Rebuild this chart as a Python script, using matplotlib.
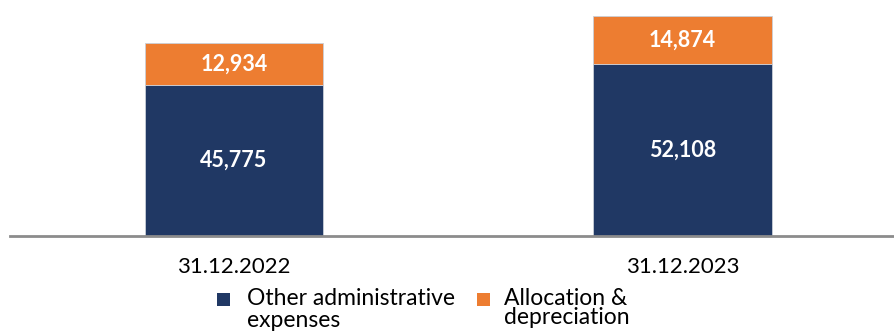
import matplotlib.pyplot as plt
from matplotlib.patches import Rectangle

plt.rcParams['font.family'] = ['Lato', 'DejaVu Sans']

# Data
periods = ['31.12.2022', '31.12.2023']
other_admin = [45775, 52108]
allocation_dep = [12934, 14874]
series_names = [['Other administrative', 'expenses'], ['Allocation &', 'depreciation']]

NAVY = '#203864'
ORANGE = '#ED7D31'
W, H = 894, 332

fig = plt.figure(figsize=(W / 100, H / 100), dpi=100)
ax = fig.add_axes([10 / W, 96 / H, 884 / W, 236 / H])

x = list(range(len(periods)))
width = 0.397
ax.bar(x, other_admin, width, color=NAVY, edgecolor='#c9cfd8', linewidth=0.6)
ax.bar(x, allocation_dep, width, bottom=other_admin, color=ORANGE,
       edgecolor='#c9cfd8', linewidth=0.6)

for i in x:
    ax.text(i, other_admin[i] / 2, f'{other_admin[i]:,}', ha='center', va='center',
            color='white', fontsize=15.5, fontweight='bold')
    ax.text(i, other_admin[i] + allocation_dep[i] / 2, f'{allocation_dep[i]:,}',
            ha='center', va='center', color='white', fontsize=15.5, fontweight='bold')

ax.set_xlim(-0.4995, 1.4716)
ax.set_ylim(0, 71700)
ax.set_xticks(x)
ax.set_xticklabels(periods, fontsize=16)
ax.tick_params(axis='x', length=0, pad=15)
ax.set_yticks([])
for side in ['top', 'right', 'left']:
    ax.spines[side].set_visible(False)
ax.spines['bottom'].set_color('#8c8c8c')
ax.spines['bottom'].set_linewidth(2)

# Legend: square swatch aligned with first line of each two-line label
legend_items = [
    (NAVY, 217, 247, series_names[0], [305, 327]),
    (ORANGE, 477, 504, series_names[1], [305, 324]),
]
for color, sx, tx, lines, baselines in legend_items:
    fig.patches.append(Rectangle((sx / W, 1 - 306 / H), 13 / W, 13 / H,
                                 transform=fig.transFigure, facecolor=color,
                                 edgecolor='none'))
    for line, by in zip(lines, baselines):
        fig.text(tx / W, 1 - by / H, line, ha='left', va='baseline',
                 fontsize=16.5, color='black')

fig.savefig('out.png', dpi=100)
